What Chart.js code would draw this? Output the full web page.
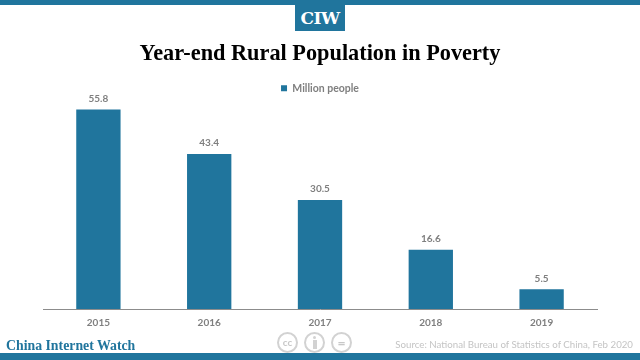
<!DOCTYPE html>
<html>
<head>
  <title>Year-end Rural Population in Poverty</title>
  <script src="https://cdn.jsdelivr.net/npm/chart.js"></script>
  <style>
    html, body { margin: 0; padding: 0; background: #fff; }
    #page { position: relative; width: 640px; height: 360px; overflow: hidden; }
    #chart { position: absolute; left: 0; top: 0; }
    .band { position: absolute; left: 0; width: 640px; background: #20759d; }
    .txt { position: absolute; white-space: nowrap; }
    #logo { left: 295px; top: 5px; width: 50px; height: 26px; background: #20759d; color: #fff; text-align: center;
      font: bold 17px/27px "DejaVu Serif", serif; letter-spacing: -0.5px; }
    #title { left: 0; width: 640px; top: 37px; text-align: center; color: #000;
      font: bold 22.3px/32px "Liberation Serif", serif; }
    #brand { left: 6px; top: 337px; color: #20759d; font: bold 13.8px/18px "Liberation Serif", serif; }
    #source { right: 7px; top: 336px; color: #c4c4c4; font: 9.7px/17px Lato, sans-serif; }
    .cc { position: absolute; top: 332px; width: 17px; height: 17px; border: 2px solid #d2d2d2; border-radius: 50%;
      color: #c8c8c8; text-align: center; font: bold 10px/17px Lato, sans-serif; }
    .head { position: absolute; left: 7px; top: 2px; width: 3px; height: 3px; border-radius: 50%; background: #d2d2d2; }
    .body { position: absolute; left: 6.5px; top: 6px; width: 4px; height: 9px; background: #d2d2d2; }
  </style>
</head>
<body>
  <div id="page">
    <canvas id="chart" width="640" height="360"></canvas>
    <div class="band" style="top:0;height:5px"></div>
    <div class="band" style="top:353px;height:7px"></div>
    <div class="txt" id="logo">CIW</div>
    <div class="txt" id="title">Year-end Rural Population in Poverty</div>
    <div class="txt" id="brand">China Internet Watch</div>
    <div class="txt" id="source">Source: National Bureau of Statistics of China, Feb 2020</div>
    <div class="cc" style="left:277px">cc</div>
    <div class="cc" style="left:304px"><div class="head"></div><div class="body"></div></div>
    <div class="cc" style="left:331px;font-size:14px">=</div>
  </div>
  <script>
    const years = ['2015', '2016', '2017', '2018', '2019'];
    const millionPeople = [55.8, 43.4, 30.5, 16.6, 5.5];
    const seriesName = 'Million people';

    // value labels above the bars
    const barValues = {
      id: 'barValues',
      afterDatasetsDraw(chart) {
        const ctx = chart.ctx;
        ctx.save();
        ctx.font = 'bold 10px Lato, sans-serif';
        ctx.fillStyle = '#7f7f7f';
        ctx.textAlign = 'center';
        ctx.textBaseline = 'bottom';
        chart.getDatasetMeta(0).data.forEach((bar, i) => {
          ctx.fillText(millionPeople[i].toFixed(1), bar.x, bar.y - 6);
        });
        ctx.restore();
      }
    };

    new Chart(document.getElementById('chart'), {
      type: 'bar',
      data: {
        labels: years,
        datasets: [{
          label: seriesName,
          data: millionPeople,
          backgroundColor: '#20759d',
          barPercentage: 0.4,
          categoryPercentage: 1
        }]
      },
      options: {
        responsive: false,
        animation: false,
        layout: { padding: { left: 43, right: 43, top: 83, bottom: 23 } },
        plugins: {
          tooltip: { enabled: false },
          legend: {
            position: 'top',
            labels: {
              boxWidth: 6, boxHeight: 6,
              color: '#7f7f7f',
              font: { family: 'Lato, sans-serif', size: 10.5, weight: 'bold' },
              padding: 0
            }
          }
        },
        scales: {
          x: {
            grid: { display: false, drawTicks: false },
            border: { color: '#8c8c8c', width: 1 },
            ticks: { color: '#7f7f7f', font: { family: 'Lato, sans-serif', size: 10, weight: 'bold' }, padding: 8 }
          },
          y: { display: false, min: 0, max: 57.5 }
        }
      },
      plugins: [barValues]
    });
  </script>
</body>
</html>
